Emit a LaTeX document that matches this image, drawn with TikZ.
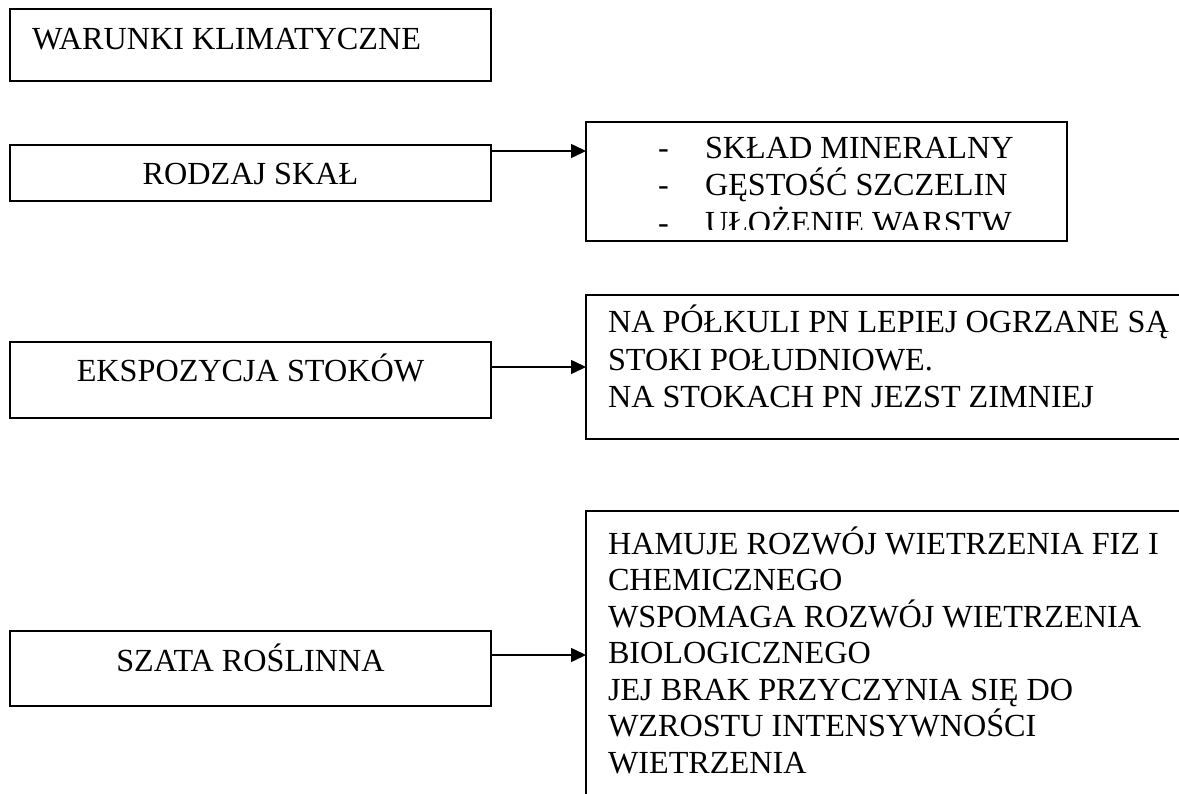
\documentclass[tikz,border=0pt]{standalone}
\usepackage{fontspec}
\setmainfont{Liberation Serif}
\usetikzlibrary{arrows.meta}
\begin{document}
\begin{tikzpicture}[x=1pt,y=-1pt,
  box/.style={draw, line width=1.8pt, inner sep=0pt, outer sep=0pt, anchor=north west},
  txt/.style={font=\fontsize{32.2}{37}\selectfont, inner sep=0pt, outer sep=0pt, anchor=base west},
  ctxt/.style={txt, anchor=base},
  link/.style={line width=1.5pt, -{Triangle[length=15pt,width=14pt]}}]
\useasboundingbox (0,0) rectangle (1179,794);
\clip (0,0) rectangle (1179,794);
\fill[white] (0,0) rectangle (1179,794);
% left boxes
\node[box, minimum width=481pt, minimum height=72pt] (klim) at (10,9) {};
\node[txt] (klimt) at (32,50) {WARUNKI KLIMATYCZNE};
\node[box, minimum width=481pt, minimum height=56pt] (skal) at (10,145) {};
\node[ctxt] (skalt) at (250.5,185) {RODZAJ SKAŁ};
\node[box, minimum width=481pt, minimum height=76pt] (eksp) at (10,342) {};
\node[ctxt] (ekspt) at (250.5,382) {EKSPOZYCJA STOKÓW};
\node[box, minimum width=481pt, minimum height=75pt] (szata) at (10,631) {};
\node[ctxt] (szatat) at (250.5,671) {SZATA ROŚLINNA};
% right boxes
\node[box, minimum width=481pt, minimum height=119pt] (skalr) at (586,122) {};
\begin{scope}
\clip (586,122) rectangle (1067,230);
\node[txt] (d1) at (658,159) {-};
\node[txt] (l1) at (705,159) {SKŁAD MINERALNY};
\node[txt] (d2) at (658,196) {-};
\node[txt] (l2) at (705,196) {GĘSTOŚĆ SZCZELIN};
\node[txt] (d3) at (658,234) {-};
\node[txt] (l3) at (705,234) {UŁOŻENIE WARSTW};
\end{scope}
\node[box, minimum width=700pt, minimum height=144pt] (ekspr) at (586,295) {};
\node[txt] (e1) at (608,333) {NA PÓŁKULI PN LEPIEJ OGRZANE SĄ};
\node[txt] (e2) at (608,370.5) {STOKI POŁUDNIOWE.};
\node[txt] (e3) at (608,408) {NA STOKACH PN JEZST ZIMNIEJ};
\node[box, minimum width=700pt, minimum height=400pt] (szatar) at (586,511) {};
\node[txt] (s1) at (608,554) {HAMUJE ROZWÓJ WIETRZENIA FIZ I};
\node[txt] (s2) at (608,590.5) {CHEMICZNEGO};
\node[txt] (s3) at (608,627) {WSPOMAGA ROZWÓJ WIETRZENIA};
\node[txt] (s4) at (608,663.5) {BIOLOGICZNEGO};
\node[txt] (s5) at (608,700) {JEJ BRAK PRZYCZYNIA SIĘ DO};
\node[txt] (s6) at (608,736.5) {WZROSTU INTENSYWNOŚCI};
\node[txt] (s7) at (608,773) {WIETRZENIA};
% connectors
\coordinate (y1) at (0,151);
\coordinate (y2) at (0,367);
\coordinate (y3) at (0,655);
\draw[link] (skal.east |- y1) -- (skalr.west |- y1);
\draw[link] (eksp.east |- y2) -- (ekspr.west |- y2);
\draw[link] (szata.east |- y3) -- (szatar.west |- y3);
\end{tikzpicture}
\end{document}
